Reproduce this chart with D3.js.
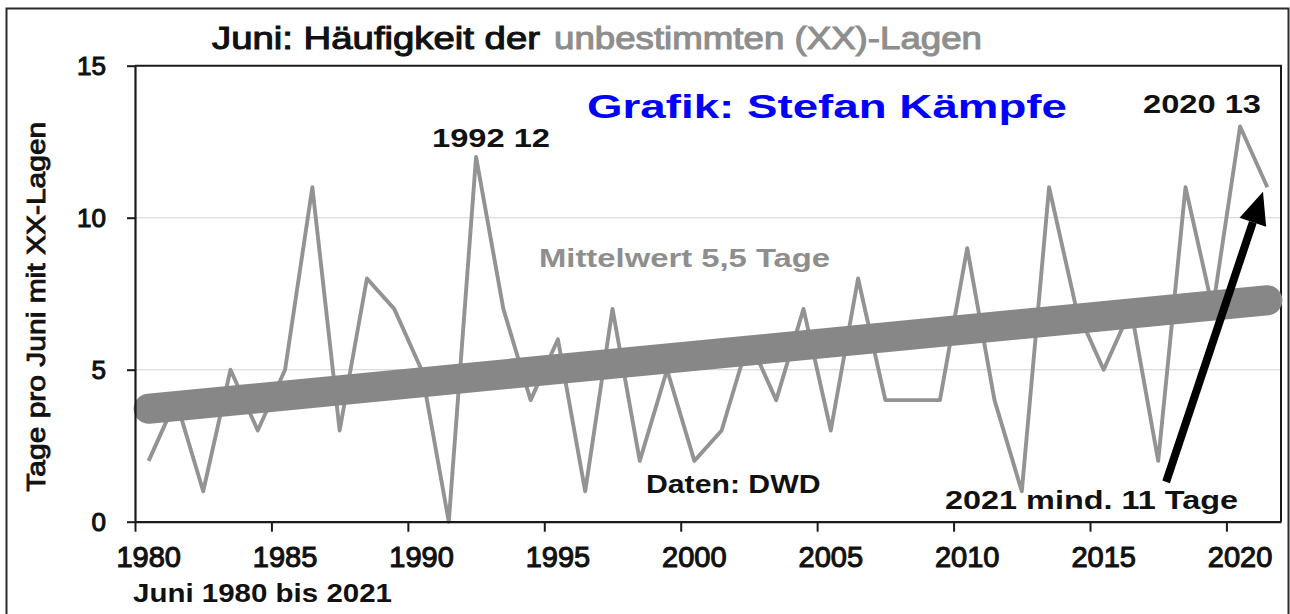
<!DOCTYPE html>
<html>
<head>
<meta charset="utf-8">
<script src="https://cdn.jsdelivr.net/npm/d3@7.9.0/dist/d3.min.js"></script>
<style>
  html, body { margin: 0; padding: 0; background: #fff; }
  svg { display: block; font-family: "Liberation Sans", Arial, sans-serif; }
</style>
</head>
<body>
<svg id="chart" width="1290" height="614"></svg>
<script>
// June counts of undetermined (XX) weather types, 1980-2021
const years = d3.range(1980, 2022);
const days = [
  2, 4, 1, 5, 3, 5, 11, 3, 8, 7,
  5, 0, 12, 7, 4, 6, 1, 7, 2, 5,
  2, 3, 6, 4, 7, 3, 8, 4, 4, 4,
  9, 4, 1, 11, 7, 5, 7, 2, 11, 7,
  13, 11
];
const yTicks = [0, 5, 10, 15];
const xTickYears = years.filter(d => d % 5 === 0);

// arrow for 2021 annotation, in [year, value]
const arrowFrom = [2017.29, 1.31];
const arrowTo = [2020.84, 10.85];

const svg = d3.select('#chart');
const plotLeft = 135, plotRight = 1281, plotTop = 65.7, plotBottom = 521.7;

svg.append('rect')
  .attr('x', 6.5).attr('y', 8.5).attr('width', 1282).attr('height', 700)
  .attr('fill', '#fff').attr('stroke', '#2b2b2b').attr('stroke-width', 2);

let x = d3.scaleBand().domain(years).range([plotLeft, plotRight]).padding(0);
let xYear = d3.scaleLinear().domain([1980, 2022]).range([plotLeft, plotRight]);
let y = d3.scaleLinear().domain([0, 15]).range([plotBottom, plotTop]);
const cx = (yr) => xYear(yr + 0.5);

// gridlines
svg.append('g')
  .selectAll('line')
  .data([5, 10])
  .join('line')
  .attr('x1', plotLeft).attr('x2', plotRight)
  .attr('y1', d => y(d)).attr('y2', d => y(d))
  .attr('stroke', '#dcdcdc').attr('stroke-width', 1.2);

// plot border (top + right)
svg.append('path')
  .attr('d', `M${plotLeft},${y(15)}H${plotRight}V${plotBottom}`)
  .attr('fill', 'none').attr('stroke', '#1a1a1a').attr('stroke-width', 2);

// data line
let line = d3.line()
  .x((d, i) => x(years[i]) + x.bandwidth() / 2)
  .y(d => y(d));

svg.append('path')
  .datum(days)
  .attr('d', line)
  .attr('fill', 'none')
  .attr('stroke', '#939393')
  .attr('stroke-width', 3.9)
  .attr('stroke-linejoin', 'round');

// linear trend (least squares)
const idx = years.map((d, i) => i);
const mx = d3.mean(idx), my = d3.mean(days);
const slope = d3.sum(idx, i => (i - mx) * (days[i] - my)) / d3.sum(idx, i => (i - mx) ** 2);
const icpt = my - slope * mx;
const trend = [0, years.length - 1].map(i => [years[i], icpt + slope * i]);

svg.append('path')
  .datum(trend)
  .attr('d', d3.line().x(d => x(d[0]) + x.bandwidth() / 2).y(d => y(d[1])))
  .attr('stroke', '#878787')
  .attr('stroke-width', 30)
  .attr('stroke-linecap', 'round');

// y axis
let yAxis = svg.append('g')
  .attr('transform', `translate(${plotLeft},0)`)
  .call(d3.axisLeft(y).tickValues(yTicks).tickSize(8).tickSizeOuter(0).tickPadding(21));
yAxis.select('.domain').attr('stroke', '#1a1a1a').attr('stroke-width', 2.2);
yAxis.selectAll('.tick line').attr('stroke', '#1a1a1a').attr('stroke-width', 2);
yAxis.selectAll('.tick text')
  .attr('font-size', 26).attr('font-family', '"Liberation Sans", Arial, sans-serif')
  .attr('fill', '#111').attr('stroke', '#111').attr('stroke-width', 1.1)
  .attr('dy', '0.34em');

// x axis tick marks at category edges
let xAxisTicks = svg.append('g')
  .attr('transform', `translate(0,${plotBottom})`)
  .call(d3.axisBottom(xYear).tickValues(xTickYears).tickSize(10).tickSizeOuter(0).tickFormat(''));
xAxisTicks.select('.domain').attr('stroke', '#1a1a1a').attr('stroke-width', 2.2);
xAxisTicks.selectAll('.tick line').attr('stroke', '#1a1a1a').attr('stroke-width', 2);

// x labels centered on categories
let xAxisLabels = svg.append('g')
  .attr('transform', `translate(0,${plotBottom})`)
  .call(d3.axisBottom(x).tickValues(xTickYears).tickSize(0).tickPadding(25));
xAxisLabels.select('.domain').remove();
xAxisLabels.selectAll('.tick text')
  .attr('font-size', 29).attr('font-family', '"Liberation Sans", Arial, sans-serif')
  .attr('fill', '#111').attr('stroke', '#111').attr('stroke-width', 1.1);

// texts
function label(txt, px, py, opts) {
  let t = svg.append('text')
    .attr('x', px).attr('y', py)
    .attr('font-size', opts.size)
    .attr('font-weight', opts.bold ? 'bold' : 'normal')
    .attr('fill', opts.color || '#111')
    .text(txt);
  if (opts.width) t.attr('textLength', opts.width).attr('lengthAdjust', 'spacingAndGlyphs');
  if (opts.stroke) t.attr('stroke', opts.color || '#111').attr('stroke-width', opts.stroke);
  return t;
}

label('Juni: Häufigkeit der', 212, 48.5, { size: 32, width: 328, stroke: 1.1 });
label('unbestimmten (XX)-Lagen', 554, 48.5, { size: 32, width: 428, color: '#8e8e8e', stroke: 1.1 });
label('Grafik: Stefan Kämpfe', 587, 118.3, { size: 34, bold: true, width: 480, color: '#0000ff' });
label('1992 12', 432, 146.5, { size: 26, bold: true, width: 118 });
label('2020 13', 1143, 113.3, { size: 26, bold: true, width: 118 });
label('Mittelwert 5,5 Tage', 539, 266.7, { size: 26, bold: true, width: 291, color: '#8e8e8e' });
label('Daten: DWD', 646, 492.7, { size: 26, bold: true, width: 174.5 });
label('2021 mind. 11 Tage', 945, 509.3, { size: 26, bold: true, width: 293 });
label('Juni 1980 bis 2021', 133, 601.7, { size: 26, bold: true, width: 259 });

svg.append('text')
  .attr('transform', 'translate(45,306.7) rotate(-90)')
  .attr('text-anchor', 'middle')
  .attr('font-size', 26)
  .attr('fill', '#111').attr('stroke', '#111').attr('stroke-width', 0.9)
  .attr('textLength', 370).attr('lengthAdjust', 'spacingAndGlyphs')
  .text('Tage pro Juni mit XX-Lagen');

// arrow
const ax0 = cx(arrowFrom[0]), ay0 = y(arrowFrom[1]);
const ax1 = cx(arrowTo[0]), ay1 = y(arrowTo[1]);
const ang = Math.atan2(ay1 - ay0, ax1 - ax0);
const headLen = 32, headHalf = 14;
const bx = ax1 - headLen * Math.cos(ang), by = ay1 - headLen * Math.sin(ang);
svg.append('line')
  .attr('x1', ax0).attr('y1', ay0).attr('x2', bx).attr('y2', by)
  .attr('stroke', '#000').attr('stroke-width', 8);
svg.append('path')
  .attr('d', d3.line()([
    [ax1, ay1],
    [bx + headHalf * Math.sin(ang), by - headHalf * Math.cos(ang)],
    [bx - headHalf * Math.sin(ang), by + headHalf * Math.cos(ang)]
  ]) + 'Z')
  .attr('fill', '#000');
</script>
</body>
</html>
